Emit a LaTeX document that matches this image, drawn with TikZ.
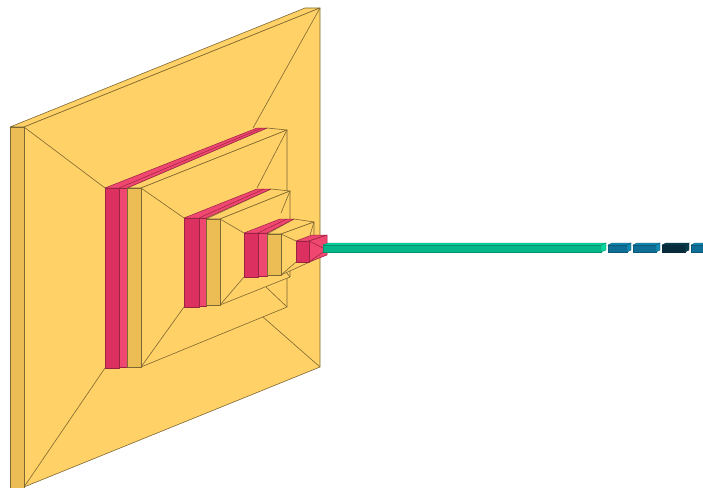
\documentclass[tikz,border=0pt]{standalone}
\usepackage{tikz}
\definecolor{convfront}{RGB}{236,189,84}
\definecolor{convside}{RGB}{255,209,102}
\definecolor{poolfront}{RGB}{220,48,96}
\definecolor{poolside}{RGB}{239,71,111}
\definecolor{flatfront}{RGB}{6,182,136}
\definecolor{flatside}{RGB}{6,214,160}
\definecolor{densefront}{RGB}{15,110,150}
\definecolor{denseside}{RGB}{17,138,178}
\definecolor{darkfront}{RGB}{6,44,60}
\definecolor{darkside}{RGB}{7,59,76}
\definecolor{edgeline}{RGB}{125,103,50}

\begin{document}
\begin{tikzpicture}[x=1pt, y=-1pt,
  conv/.style={fill=convside, draw=edgeline, line width=0.6pt, line join=round},
  convf/.style={conv, fill=convfront},
  pool/.style={fill=poolside, draw=poolfront!70!black, line width=0.5pt, line join=round},
  poolf/.style={pool, fill=poolfront},
  flat/.style={fill=flatfront, draw=flatfront!80!black, line width=0.4pt},
  flats/.style={flat, fill=flatside},
  dense/.style={fill=densefront, draw=densefront!80!black, line width=0.4pt},
  denses/.style={dense, fill=denseside},
  darkb/.style={fill=darkfront, draw=darkfront, line width=0.4pt},
  darks/.style={darkb, fill=darkside},
  ridge/.style={draw=edgeline, line width=0.6pt}]
\useasboundingbox (0,0) rectangle (703,487);
\clip (0,0) rectangle (703,487);
% first conv block
\draw[conv] (10,127) -- (24,127) -- (320,8) -- (305,8) -- cycle;
\draw[conv] (24,127) -- (320,8) -- (320,367) -- (24,487) -- cycle;
\draw[convf] (10,127) rectangle (24,490);
\draw[ridge] (24,127) -- (105,188);
\draw[ridge] (24,487) -- (105,368);
\draw[ridge] (320,8) -- (253,128);
\draw[ridge] (320,367) -- (263,317);
% pool, conv
\draw[conv] (127,188) -- (141,188) -- (287,130) -- (267,128) -- cycle;
\draw[pool] (105,188) -- (127,188) -- (267,128) -- (257,128) -- cycle;
\draw[pool] (119,188) -- (262,128);
\draw[conv] (141,188) -- (287,130) -- (287,307) -- (141,367) -- cycle;
\draw[poolf] (105,188) rectangle (119,368);
\draw[pool] (119,188) rectangle (127,367);
\draw[convf] (127,188) rectangle (141,367);
\draw[ridge] (141,188) -- (184,218);
\draw[ridge] (141,367) -- (184,307);
\draw[ridge] (287,130) -- (257,188);
\draw[ridge] (287,307) -- (266,287);
% pool, conv
\draw[conv] (206,219) -- (220,219) -- (290,191) -- (271,189) -- cycle;
\draw[pool] (184,218) -- (206,218) -- (271,189) -- (257,189) -- cycle;
\draw[pool] (199,218) -- (264,189);
\draw[conv] (220,219) -- (290,191) -- (290,277) -- (220,305) -- cycle;
\draw[poolf] (184,218) rectangle (199,307);
\draw[pool] (199,218) rectangle (206,306);
\draw[convf] (206,219) rectangle (220,305);
\draw[ridge] (220,219) -- (244,233);
\draw[ridge] (220,305) -- (244,277);
\draw[ridge] (290,191) -- (281,213);
\draw[ridge] (290,277) -- (286,272);
% pool, conv
\draw[conv] (267,234) -- (281,234) -- (314,222) -- (294,219) -- cycle;
\draw[pool] (244,233) -- (267,233) -- (294,219) -- (280,219) -- cycle;
\draw[pool] (258,233) -- (287,219);
\draw[conv] (281,234) -- (314,222) -- (314,260) -- (281,275) -- cycle;
\draw[poolf] (244,233) rectangle (258,277);
\draw[pool] (258,233) rectangle (267,276);
\draw[convf] (267,234) rectangle (281,275);
\draw[ridge] (281,234) -- (296,241);
\draw[ridge] (281,275) -- (296,262);
\draw[ridge] (314,222) -- (310,235);
% last pool
\draw[pool] (296,241) -- (309,241) -- (327,235) -- (312,235) -- cycle;
\draw[pool] (309,241) -- (327,235) -- (327,255) -- (309,262) -- cycle;
\draw[poolf] (296,241) rectangle (309,262);
\draw[pool] (309,241) -- (323,248);
\draw[pool] (309,262) -- (323,252);
% flatten
\draw[flats] (323,245) -- (601,245) -- (606,243) -- (328,243) -- cycle;
\draw[flat] (323,245) rectangle (601,252);
\draw[flats] (601,245) -- (606,243) -- (606,250) -- (601,252) -- cycle;
% dense blocks
\draw[denses] (608,245) -- (627,245) -- (631,243) -- (612,243) -- cycle;
\draw[dense] (608,245) rectangle (627,252);
\draw[denses] (627,245) -- (631,243) -- (631,250) -- (627,252) -- cycle;
\draw[denses] (633,245) -- (656,245) -- (660,243) -- (637,243) -- cycle;
\draw[dense] (633,245) rectangle (656,252);
\draw[denses] (656,245) -- (660,243) -- (660,250) -- (656,252) -- cycle;
\draw[darks] (662,245) -- (685,245) -- (689,243) -- (666,243) -- cycle;
\draw[darkb] (662,245) rectangle (685,252);
\draw[darks] (685,245) -- (689,243) -- (689,250) -- (685,252) -- cycle;
\draw[denses] (691,245) -- (703,245) -- (703,243) -- (695,243) -- cycle;
\draw[dense] (691,245) rectangle (704,252);
\end{tikzpicture}
\end{document}
